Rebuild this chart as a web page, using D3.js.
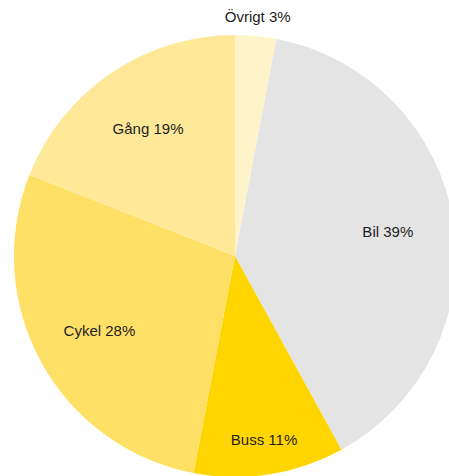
<!DOCTYPE html>
<html>
<head>
<meta charset="utf-8">
<script src="https://cdn.jsdelivr.net/npm/d3@7"></script>
<style>
  html, body { margin: 0; padding: 0; background: #fff; overflow: hidden; }
  svg { display: block; }
</style>
</head>
<body>
<svg id="chart" width="449" height="476"></svg>
<script>
// Travel mode shares (percent), clockwise from twelve o'clock
const categories = ["Övrigt", "Bil", "Buss", "Cykel", "Gång"];
const shares = [3, 39, 11, 28, 19];
const colors = ["#FFF4C9", "#E4E4E4", "#FFD500", "#FFE066", "#FFE999"];

const width = 449, height = 476;
const cx = 235, cy = 256, radius = 221;

const svg = d3.select("#chart");
const g = svg.append("g").attr("transform", `translate(${cx},${cy})`);

const data = categories.map((c, i) => ({ name: c, value: shares[i], color: colors[i] }));

const pie = d3.pie().value(d => d.value).sort(null);
const arcs = pie(data);

const arc = d3.arc().innerRadius(0).outerRadius(radius);

g.selectAll("path.slice")
  .data(arcs)
  .join("path")
  .attr("class", "slice")
  .attr("d", arc)
  .attr("fill", d => d.data.color);

// Label radius depends on slice size: tiny slices get their label outside the pie
function labelRadius(v) {
  if (v < 5) return radius * 1.09;
  if (v < 15) return radius * 0.84;
  return radius * 0.7;
}

g.selectAll("text.label")
  .data(arcs)
  .join("text")
  .attr("class", "label")
  .attr("transform", d => {
    const r = labelRadius(d.data.value);
    const a = (d.startAngle + d.endAngle) / 2;
    return `translate(${Math.sin(a) * r},${-Math.cos(a) * r})`;
  })
  .attr("text-anchor", "middle")
  .attr("dominant-baseline", "central")
  .attr("font-family", "'Liberation Sans', Arial, sans-serif")
  .attr("font-size", 15)
  .attr("fill", "#1e1e1e")
  .text(d => `${d.data.name} ${d.data.value}%`);
</script>
</body>
</html>
